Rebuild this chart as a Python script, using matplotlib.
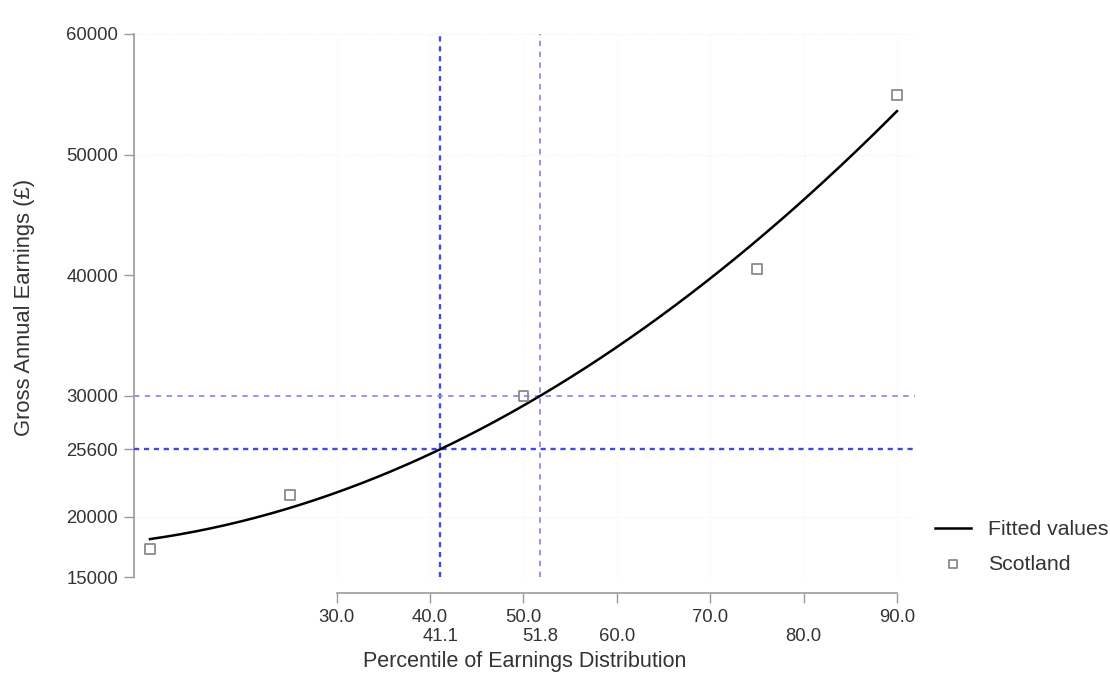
import numpy as np
import matplotlib
matplotlib.use("Agg")
import matplotlib.pyplot as plt

# Data
percentiles = [10, 25, 50, 75, 90]
earnings = [17320, 21800, 30000, 40520, 54940]

ref_x_main = 41.1
ref_y_main = 25600
ref_x_alt = 51.8
ref_y_alt = 30000

y_ticks = [15000, 20000, 25600, 30000, 40000, 50000, 60000]
x_ticks_all = [30, 40, 50, 60, 70, 80, 90]
x_labels_top = [30, 40, 50, 70, 90]
x_labels_bottom = [41.1, 51.8, 60, 80]

plt.rcParams['font.family'] = ['Liberation Sans', 'DejaVu Sans']

fig = plt.figure(figsize=(11.1, 6.77), dpi=100)
ax = fig.add_axes([134/1110, 1-577/677, (915-134)/1110, (577-34)/677])

# quadratic fit (fitted values)
coef = np.polyfit(percentiles, earnings, 2)
xs = np.linspace(min(percentiles), max(percentiles), 200)
ax.plot(xs, np.polyval(coef, xs), color='black', lw=1.8, label='Fitted values', zorder=4)

ax.scatter(percentiles, earnings, marker='s', s=50, facecolors='none',
           edgecolors='#8a8a8a', linewidths=1.3, label='Scotland', zorder=5)

dark = '#4646e2'
light = '#8c8cf0'
ax.axvline(ref_x_main, color=dark, lw=1.7, ls=(0, (2.2, 2.0)), zorder=3)
ax.axhline(ref_y_main, color=dark, lw=1.7, ls=(0, (2.2, 2.0)), zorder=3)
ax.axvline(ref_x_alt, color=light, lw=1.3, ls=(0, (3.0, 3.0)), zorder=3)
ax.axhline(ref_y_alt, color=light, lw=1.3, ls=(0, (3.0, 3.0)), zorder=3)

ax.set_xlim(8.29, 91.93)
ax.set_ylim(15000, 60000)

# faint grid
for yv in [15000, 20000, 50000, 60000]:
    ax.axhline(yv, color='#f0f0f0', lw=0.8, ls=':', zorder=0)
for xv in x_ticks_all:
    ax.axvline(xv, color='#f3f3f3', lw=0.8, ls=':', zorder=0)

for s in ['top', 'right']:
    ax.spines[s].set_visible(False)
ax.spines['left'].set_color('#9a9a9a')
ax.spines['left'].set_linewidth(1.2)
ax.spines['bottom'].set_color('#9a9a9a')
ax.spines['bottom'].set_linewidth(1.2)
ax.spines['bottom'].set_position(('outward', 11.5))
ax.spines['bottom'].set_bounds(30, 90)

ax.set_yticks(y_ticks)
ax.set_yticklabels([str(v) for v in y_ticks])
ax.tick_params(axis='y', length=7.4, width=1.0, color='#9a9a9a', labelsize=13.3,
               labelcolor='#333333', pad=4)

ax.xaxis.remove_overlapping_locs = False
ax.set_xticks(x_ticks_all)
ax.set_xticklabels([f"{v:.1f}" if v in x_labels_top else "" for v in x_ticks_all])
ax.set_xticks(x_labels_bottom, minor=True)
ax.set_xticklabels([f"{v:.1f}" for v in x_labels_bottom], minor=True)
ax.tick_params(axis='x', which='major', length=7.4, width=1.0, color='#9a9a9a',
               labelsize=13.3, labelcolor='#333333', pad=4.3)
ax.tick_params(axis='x', which='minor', length=0, labelsize=13.3,
               labelcolor='#333333', pad=25.3)

fig.text(25/1110, 1-307/677, 'Gross Annual Earnings (£)', rotation=90, ha='center',
         va='center', fontsize=15.8, color='#333333')
fig.text(524.5/1110, 1-662/677, 'Percentile of Earnings Distribution', ha='center',
         va='center', fontsize=15.5, color='#333333')

leg = fig.legend(loc='upper left', bbox_to_anchor=(916/1110, 1-501/677), frameon=False,
                 fontsize=15.3, handlelength=1.7, handletextpad=0.8, labelspacing=0.73,
                 borderpad=0.4, markerscale=0.8)
for t in leg.get_texts():
    t.set_color('#333333')

fig.savefig('out.png', dpi=100)
